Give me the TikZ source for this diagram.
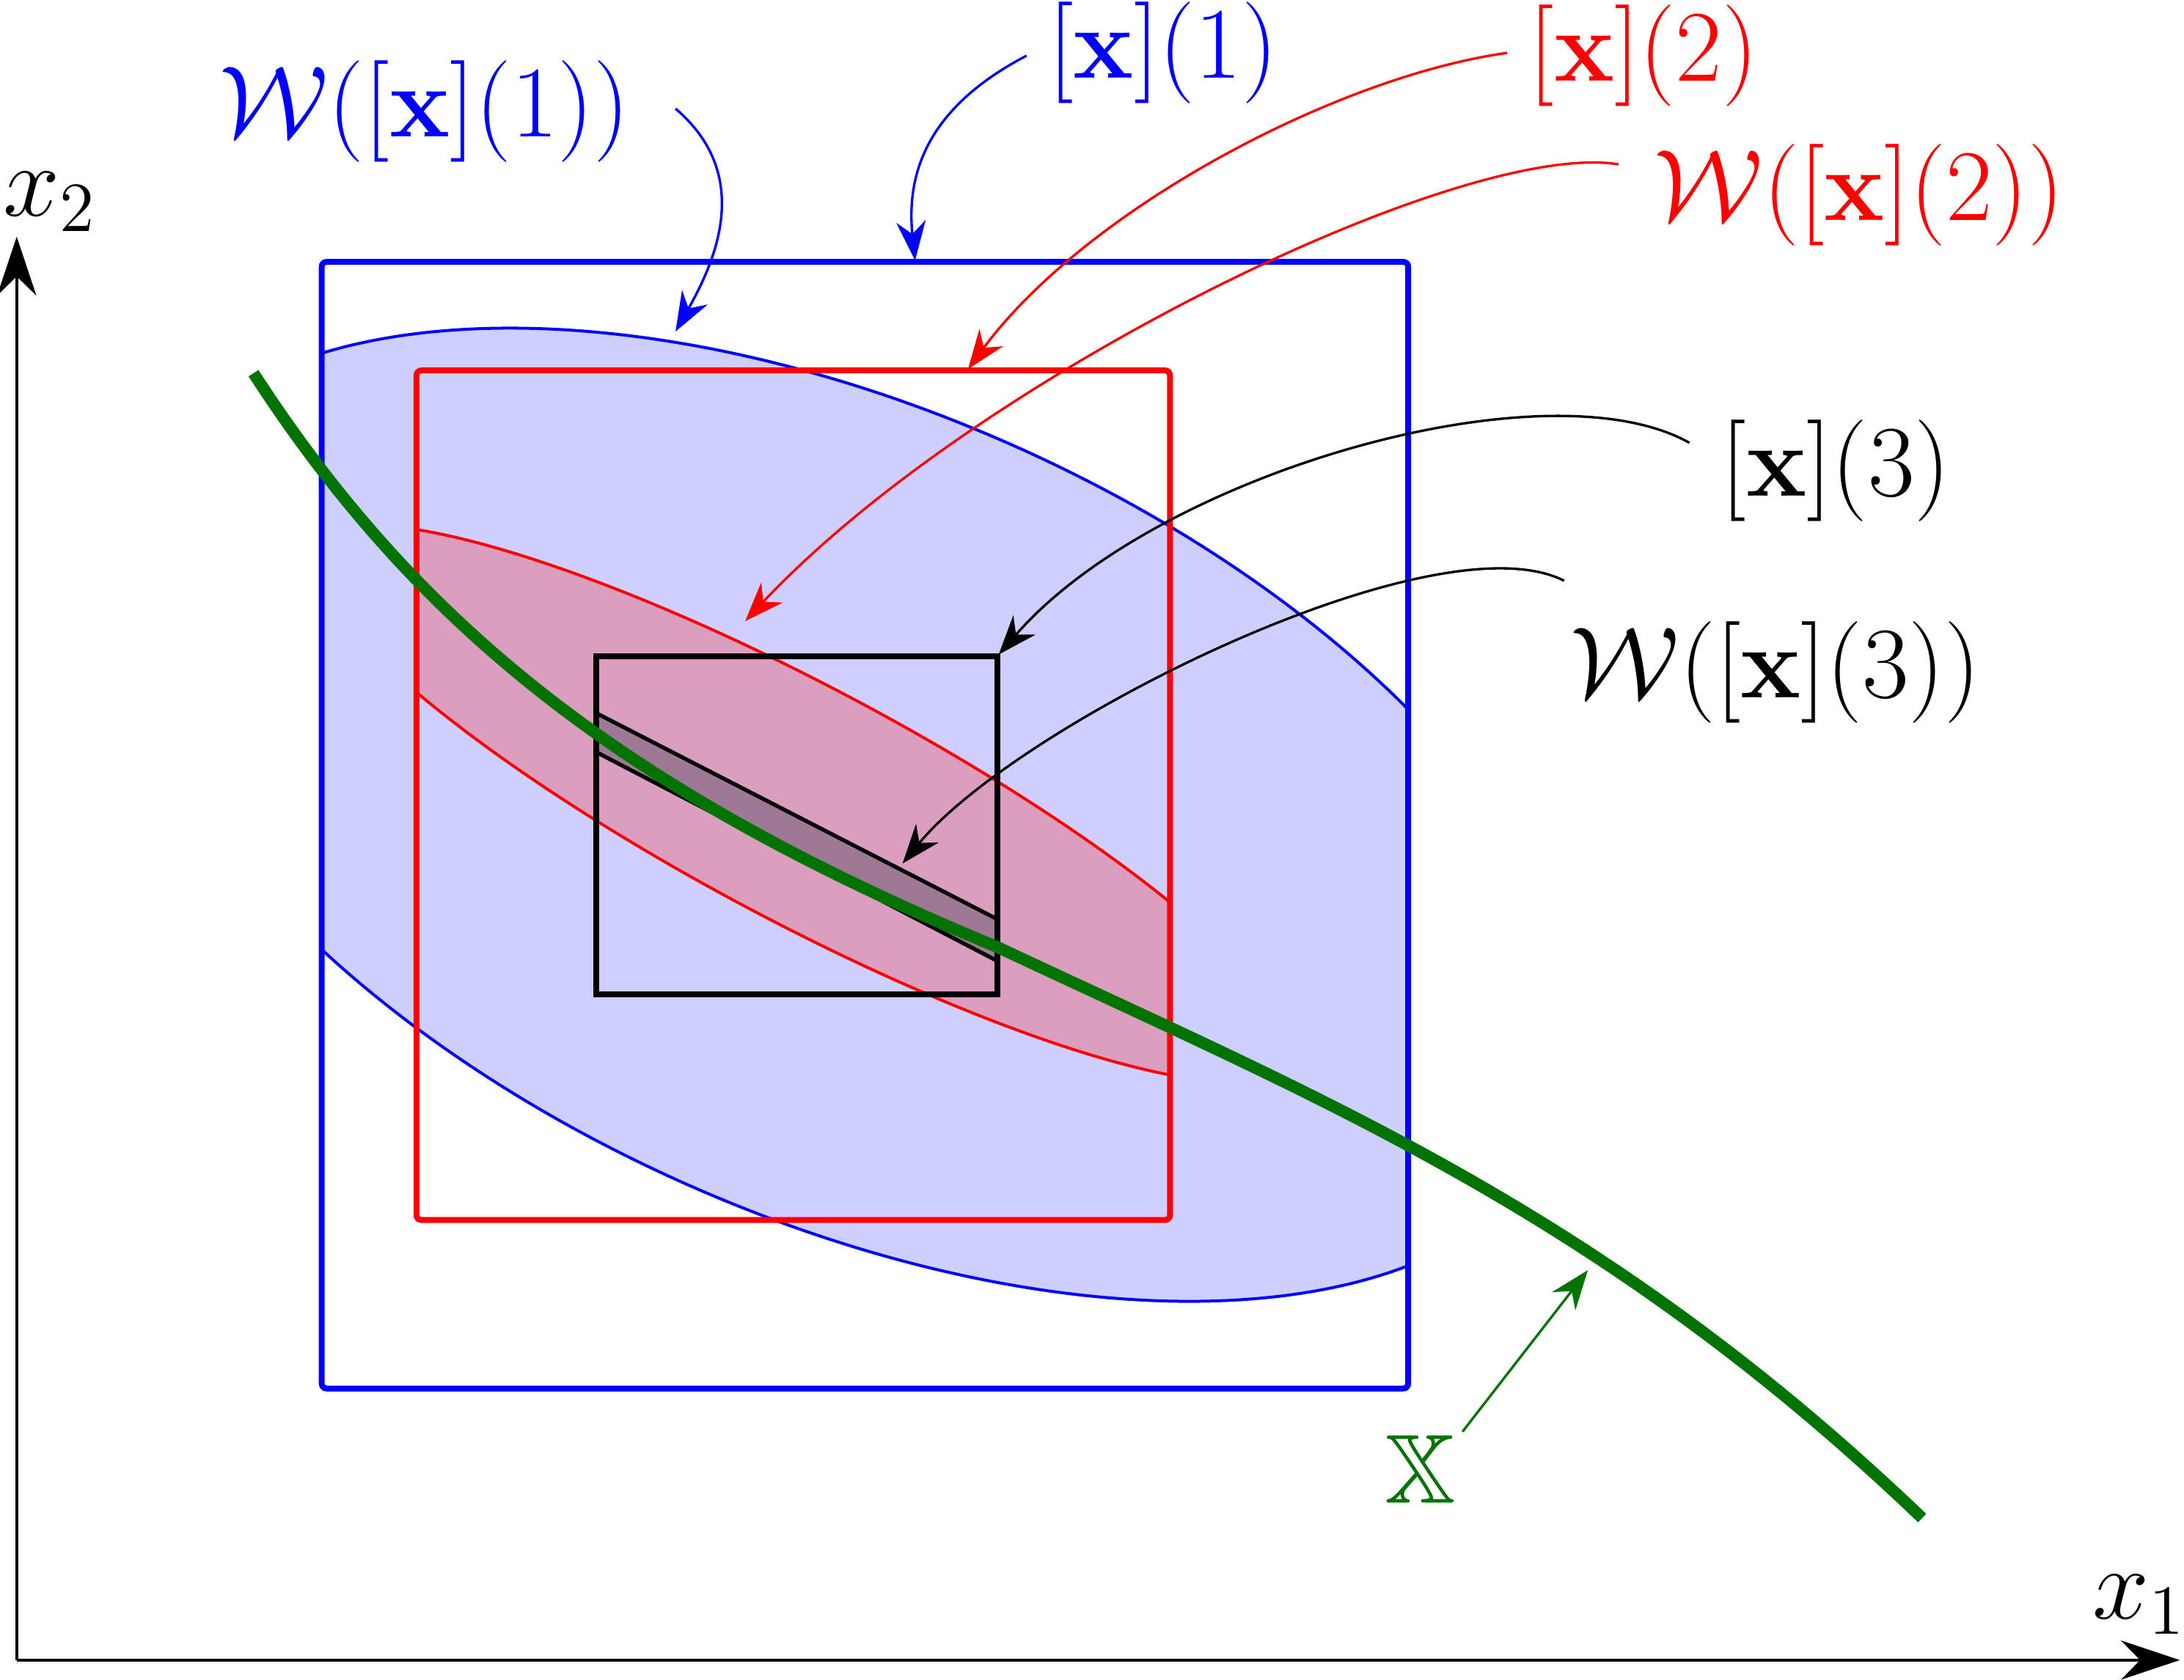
\documentclass[tikz,border=0pt]{standalone}
\usepackage{amssymb}
\usetikzlibrary{arrows.meta}
\definecolor{dgreen}{rgb}{0,0.45,0}
\tikzset{
 lab/.style={font=\fontsize{20}{24}\selectfont, inner sep=0pt},
 callout/.style={-{Stealth[length=8pt,width=6pt]}, line width=0.5pt},
}
\begin{document}
\begin{tikzpicture}[x=0.01cm,y=-0.01cm,yshift=12.06cm]
\useasboundingbox (0,0) rectangle (1568,1206);
% ellipses
\begin{scope}
\clip (231,188) rectangle (1011,997);
\fill[blue!19] (610,585) ellipse[x radius=560, y radius=290, rotate=-24];
\draw[blue, line width=0.6pt] (610,585) ellipse[x radius=560, y radius=290, rotate=-24];
\end{scope}
\begin{scope}
\clip (299,266) rectangle (840,876);
\fill[fill={rgb,1:red,0.86;green,0.62;blue,0.75}] (575,577) ellipse[x radius=395, y radius=84, rotate=-28];
\draw[red, line width=0.6pt] (575,577) ellipse[x radius=395, y radius=84, rotate=-28];
\end{scope}
\fill[fill={rgb,1:red,0.62;green,0.47;blue,0.58}] (428,512) -- (716,660) -- (716,690) -- (428,540) -- cycle;
\draw[line width=0.8pt] (428,512) -- (716,660) (428,540) -- (716,690);
% boxes
\draw[blue, line width=1.2pt, rounded corners=1pt] (231,188) rectangle (1011,997);
\draw[red, line width=1.2pt, rounded corners=1pt] (299,266) rectangle (840,876);
\draw[black, line width=1.2pt] (428,471) rectangle (716,714);
% curve
\draw[dgreen, line width=2.4pt] (182,268) .. controls (300,450) and (450,570) .. (716,680)
  .. controls (950,790) and (1150,870) .. (1380,1090);
% axes
\draw[-{Stealth[length=12pt,width=8pt]}, line width=0.6pt] (12,1192) -- (1565,1192);
\draw[-{Stealth[length=12pt,width=8pt]}, line width=0.6pt] (12,1192) -- (12,170);
\node[lab] (x2) at (36,145) {$x_2$};
\node[lab] (x1) at (1536,1152) {$x_1$};
% labels
\node[lab, text=blue] (l1) at (835,38) {$[\mathbf{x}](1)$};
\node[lab, text=blue] (w1) at (305,80) {$\mathcal{W}([\mathbf{x}](1))$};
\node[lab, text=red] (l2) at (1180,40) {$[\mathbf{x}](2)$};
\node[lab, text=red] (w2) at (1335,140) {$\mathcal{W}([\mathbf{x}](2))$};
\node[lab] (l3) at (1318,338) {$[\mathbf{x}](3)$};
\node[lab] (w3) at (1275,483) {$\mathcal{W}([\mathbf{x}](3))$};
\node[lab, text=dgreen] (X) at (1020,1055) {$\mathbb{X}$};
\coordinate (t1) at (657,187);
\coordinate (t2) at (485,238);
\coordinate (t3) at (695,265);
\coordinate (t4) at (535,446);
\coordinate (t5) at (717,470);
\coordinate (t6) at (648,620);
\coordinate (t7) at (1140,912);
\coordinate (s1) at (737,40);
\coordinate (s2) at (485,78);
\coordinate (s3) at (1082,38);
\coordinate (s4) at (1162,118);
\coordinate (s5) at (1213,318);
\coordinate (s6) at (1123,417);
\coordinate (s7) at (1050,1028);
\draw[callout, blue] (s1) .. controls (670,75) and (650,120) .. (t1);
\draw[callout, blue] (s2) .. controls (540,125) and (515,185) .. (t2);
\draw[callout, red] (s3) .. controls (960,55) and (780,150) .. (t3);
\draw[callout, red] (s4) .. controls (1050,100) and (700,270) .. (t4);
\draw[callout] (s5) .. controls (1110,260) and (830,340) .. (t5);
\draw[callout] (s6) .. controls (1030,370) and (730,520) .. (t6);
\draw[callout, dgreen] (s7) -- (t7);
\end{tikzpicture}
\end{document}
